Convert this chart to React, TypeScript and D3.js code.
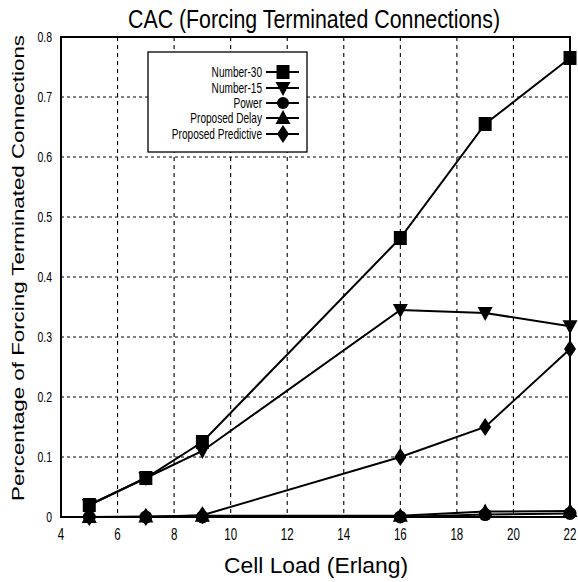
import React, { useLayoutEffect } from "react";
import * as d3 from "d3";

// Cell load (Erlang) sample points
const loads = [5, 7, 9, 16, 19, 22];

// Forcing-terminated connection ratio per scheme
const number30 = [0.02, 0.065, 0.125, 0.465, 0.655, 0.765];
const number15 = [0.02, 0.065, 0.11, 0.345, 0.34, 0.318];
const power = [0, 0, 0, 0, 0.004, 0.006];
const proposedDelay = [0, 0.001, 0.002, 0.002, 0.009, 0.01];
const proposedPredictive = [0, 0, 0.003, 0.1, 0.15, 0.28];

const seriesNames = ["Number-30", "Number-15", "Power", "Proposed Delay", "Proposed Predictive"];
const seriesShapes = ["square", "triangleDown", "circle", "triangleUp", "diamond"];

const xTicks = [4, 6, 8, 10, 12, 14, 16, 18, 20, 22];
const yTicks = [0, 0.1, 0.2, 0.3, 0.4, 0.5, 0.6, 0.7, 0.8];

const W = 578;
const H = 582;
const L = 61, R = 570, T = 37, B = 517;
const FONT = "'Liberation Sans', Arial, Helvetica, sans-serif";

function markerPath(shape: string, cx: number, cy: number): string {
  switch (shape) {
    case "square":
      return `M${cx - 6.5},${cy - 7}h13v14h-13Z`;
    case "triangleDown":
      return `M${cx - 7.5},${cy - 6}L${cx + 7.5},${cy - 6}L${cx},${cy + 8}Z`;
    case "triangleUp":
      return `M${cx - 7.5},${cy + 6}L${cx + 7.5},${cy + 6}L${cx},${cy - 8}Z`;
    case "diamond":
      return `M${cx},${cy - 9}L${cx + 6},${cy}L${cx},${cy + 9}L${cx - 6},${cy}Z`;
    default:
      return d3.arc()({ innerRadius: 0, outerRadius: 6.5, startAngle: 0, endAngle: Math.PI * 2 }) as string;
  }
}

export default function App() {
  useLayoutEffect(() => {
    document.body.style.margin = "0";
  }, []);

  const x = d3.scaleLinear().domain([4, 22]).range([L, R]);
  const y = d3.scaleLinear().domain([0, 0.8]).range([B, T]);

  const seriesValues = [number30, number15, power, proposedDelay, proposedPredictive];
  const line = d3
    .line<number>()
    .x((_, i) => x(loads[i]))
    .y((v) => y(v));

  // draw the low series first so the upper curves stay on top
  const drawOrder = [4, 3, 2, 1, 0];

  const legendX = 148, legendY = 52, legendW = 159, legendH = 100;
  const legendRows = [72, 88, 103, 118, 134];

  return (
    <svg width={W} height={H} style={{ display: "block", background: "#fff" }}>
      {/* grid */}
      {xTicks.slice(1, -1).map((t) => (
        <line key={"gx" + t} x1={x(t)} x2={x(t)} y1={T} y2={B} stroke="#000" strokeWidth={1.1} strokeDasharray="4,4" />
      ))}
      {yTicks.slice(1, -1).map((t) => (
        <line key={"gy" + t} x1={L} x2={R} y1={y(t)} y2={y(t)} stroke="#000" strokeWidth={1.1} strokeDasharray="3,3" />
      ))}

      {/* frame */}
      <rect x={L} y={T} width={R - L} height={B - T} fill="none" stroke="#000" strokeWidth={2} />

      {/* tick labels */}
      {xTicks.map((t) => (
        <text key={"xt" + t} x={x(t)} y={540} textAnchor="middle" fontFamily={FONT} fontSize={16} transform={`translate(${x(t)},0) scale(0.72,1) translate(${-x(t)},0)`}>
          {t}
        </text>
      ))}
      {yTicks.map((t) => (
        <text key={"yt" + t} x={52} y={y(t) + 5} textAnchor="end" fontFamily={FONT} fontSize={15} transform={`translate(52,0) scale(0.7,1) translate(-52,0)`}>
          {t === 0 ? "0" : d3.format(".1f")(t)}
        </text>
      ))}

      {/* series lines and markers */}
      {drawOrder.map((si) => (
        <g key={"s" + si}>
          <path d={line(seriesValues[si]) as string} fill="none" stroke="#000" strokeWidth={2} />
          {seriesValues[si].map((v, i) => (
            seriesShapes[si] === "circle" ? (
              <circle key={i} cx={x(loads[i])} cy={y(v)} r={6.5} fill="#000" />
            ) : (
              <path key={i} d={markerPath(seriesShapes[si], x(loads[i]), y(v))} fill="#000" />
            )
          ))}
        </g>
      ))}

      {/* legend */}
      <rect x={legendX} y={legendY} width={legendW} height={legendH} fill="#fff" stroke="#000" strokeWidth={1.3} />
      {seriesNames.map((name, i) => (
        <g key={"lg" + i}>
          <text x={262} y={legendRows[i] + 5} textAnchor="end" fontFamily={FONT} fontSize={14} transform={`translate(262,0) scale(0.72,1) translate(-262,0)`}>
            {name}
          </text>
          <line x1={266} x2={299} y1={legendRows[i]} y2={legendRows[i]} stroke="#000" strokeWidth={2} />
          {seriesShapes[i] === "circle" ? (
            <circle cx={283} cy={legendRows[i]} r={6} fill="#000" />
          ) : (
            <path d={markerPath(seriesShapes[i], 283, legendRows[i])} fill="#000" />
          )}
        </g>
      ))}

      {/* titles */}
      <text x={314} y={28} textAnchor="middle" fontFamily={FONT} fontSize={25} textLength={372} lengthAdjust="spacingAndGlyphs">
        CAC (Forcing Terminated Connections)
      </text>
      <text x={316} y={573} textAnchor="middle" fontFamily={FONT} fontSize={22} textLength={184} lengthAdjust="spacingAndGlyphs">
        Cell Load (Erlang)
      </text>
      <text x={0} y={0} textAnchor="middle" fontFamily={FONT} fontSize={17} textLength={466} lengthAdjust="spacingAndGlyphs" transform={`translate(24,268) rotate(-90)`}>
        Percentage of Forcing Terminated Connections
      </text>
    </svg>
  );
}
